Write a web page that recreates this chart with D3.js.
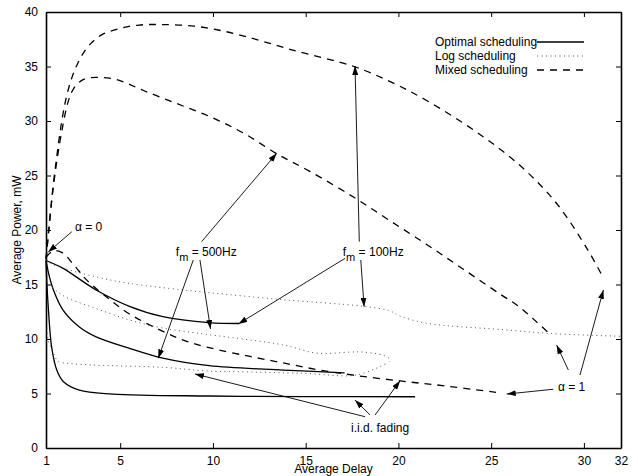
<!DOCTYPE html>
<html>
<head>
<meta charset="utf-8">
<script src="https://cdn.jsdelivr.net/npm/d3@7"></script>
<style>
  body { margin: 0; background: #fff; }
  text { font-family: "Liberation Sans", Arial, Helvetica, sans-serif; fill: #000; }
</style>
</head>
<body>
<div id="chart"></div>
<script>
// axis ticks
var xTicks = [1, 5, 10, 15, 20, 25, 30, 32];
var yTicks = [0, 5, 10, 15, 20, 25, 30, 35, 40];

// Optimal scheduling (solid)
var optimalA = [[1, 17.2], [1.9, 16.5], [3.7, 14.5], [5.5, 13.0], [7.3, 12.05], [9.8, 11.5], [11.4, 11.42]];
var optimalB = [[1, 17.2], [1.2, 15.6], [1.4, 14.5], [1.9, 12.7], [2.8, 11.1], [3.7, 10.2], [5.5, 9.15], [7.3, 8.25], [9.8, 7.55], [13.8, 7.15], [17.1, 6.9]];
var optimalC = [[1, 17.2], [1.05, 15.0], [1.12, 13.0], [1.3, 9.3], [1.58, 7.15], [1.93, 6.1], [2.8, 5.3], [4.6, 4.95], [9.8, 4.77], [15, 4.72], [20.9, 4.7]];

// Log scheduling (dotted)
var logA = [[1, 17.2], [1.4, 16.8], [3.7, 15.7], [5.5, 15.1], [8.4, 14.5], [9.8, 14.25], [13.8, 13.6], [18.1, 13.0], [19.5, 12.6], [20.1, 12.1], [21.5, 11.45], [25.7, 10.85], [28.2, 10.5], [32, 10.25]];
var logB = [[1, 15.3], [1.9, 14.0], [3.7, 12.8], [5.5, 11.75], [7.3, 11.0], [9.8, 10.4], [13.8, 9.45], [15.6, 8.7], [17.4, 8.8], [18.1, 8.8], [19.2, 8.5], [19.5, 8.2], [19.5, 7.9]];
var logC = [[1.05, 11.0], [1.12, 9.9], [1.4, 8.7], [1.66, 7.95], [2.3, 7.75], [3.7, 7.6], [7.3, 7.4], [9.8, 7.05], [11.3, 7.0], [14.9, 6.85], [17.75, 6.7], [19.4, 7.8]];

// Mixed scheduling (dashed)
var mixedA = [[1, 17.3], [1.15, 20], [1.35, 23.5], [1.6, 27], [1.85, 30], [2.1, 32.2], [2.4, 34], [2.8, 35.6], [3.3, 36.9], [4.0, 37.9], [5.0, 38.5], [6.0, 38.8], [7.2, 38.85], [9, 38.7], [10.7, 38.2], [12.5, 37.4], [14.3, 36.5], [17.6, 35.0], [19.7, 33.5], [21.5, 31.9], [24.2, 29.0], [26.5, 26.0], [28.5, 22.5], [30.2, 18.2], [31.05, 15.6]];
var mixedB = [[1, 17.3], [1.15, 20], [1.35, 23.3], [1.6, 26.5], [1.9, 29.5], [2.2, 31.8], [2.5, 33.0], [3.0, 33.8], [3.7, 34.0], [4.8, 33.8], [6.25, 32.8], [8.05, 31.6], [9.84, 30.4], [11.64, 28.9], [13.44, 27.0], [15.2, 25.4], [17.6, 23.0], [19.5, 20.9], [21.5, 18.7], [23.5, 16.4], [25.5, 14.1], [26.4, 13.1], [27.3, 11.8], [28.2, 10.4]];
var mixedC = [[1, 17.5], [1.4, 18.1], [1.9, 17.9], [2.5, 16.8], [3.2, 15.4], [4.3, 13.8], [5.5, 12.3], [7.3, 10.7], [8.4, 9.9], [9.8, 9.2], [12.0, 8.4], [13.8, 7.8], [15.6, 7.2], [17.5, 6.7], [20.1, 6.15], [22.5, 5.7], [25.3, 5.1]];

// annotation arrows [fromX, fromY, toX, toY] in data units
var arrows = [
  [2.39, 19.84, 1.12, 17.98],
  [9.39, 18.93, 13.44, 27.04],
  [8.94, 17.25, 7.05, 8.23],
  [9.30, 17.25, 9.87, 10.92],
  [17.89, 18.93, 17.66, 35.05],
  [17.97, 17.25, 18.15, 12.96],
  [17.12, 17.40, 11.37, 11.38],
  [29.16, 7.16, 28.53, 9.45],
  [29.79, 6.70, 31.05, 14.50],
  [28.35, 5.39, 25.84, 4.95],
  [18.74, 3.03, 20.09, 6.17],
  [18.47, 3.03, 17.66, 4.40],
  [18.20, 2.87, 9.03, 6.79]
];

var legendLabels = ["Optimal scheduling", "Log scheduling", "Mixed scheduling"];

var svgWidth = 638, svgHeight = 476;
var margin = {top: 12, right: 17, bottom: 28, left: 46},
    width = svgWidth - margin.left - margin.right,
    height = svgHeight - margin.top - margin.bottom;

var svg = d3.select("#chart").append("svg")
    .attr("width", svgWidth)
    .attr("height", svgHeight);

svg.append("defs").append("marker")
    .attr("id", "head")
    .attr("markerUnits", "userSpaceOnUse")
    .attr("markerWidth", 9).attr("markerHeight", 6)
    .attr("refX", 9).attr("refY", 3)
    .attr("orient", "auto")
  .append("path")
    .attr("d", "M0,0 L9,3 L0,6 Z")
    .attr("fill", "#000");

var g = svg.append("g")
    .attr("transform", "translate(" + margin.left + "," + margin.top + ")");

var x = d3.scaleLinear().domain([1, 32]).range([0, width]);
var y = d3.scaleLinear().domain([0, 40]).range([height, 0]);

// axes, ticks inward
g.append("g").attr("class", "axis")
    .attr("transform", "translate(0," + height + ")")
    .call(d3.axisBottom(x).tickValues(xTicks).tickSizeInner(-5).tickSizeOuter(0).tickPadding(8));
g.append("g").attr("class", "axis")
    .call(d3.axisLeft(y).tickValues(yTicks).tickSizeInner(-5).tickSizeOuter(0).tickPadding(8));
g.append("g").attr("class", "axis")
    .call(d3.axisTop(x).tickValues(xTicks).tickSizeInner(-5).tickSizeOuter(0).tickFormat(""));
g.append("g").attr("class", "axis")
    .attr("transform", "translate(" + width + ",0)")
    .call(d3.axisRight(y).tickValues(yTicks).tickSizeInner(-5).tickSizeOuter(0).tickFormat(""));

g.selectAll(".axis text").style("font-size", "12px").attr("fill", "#000");
g.selectAll(".axis line").attr("stroke", "#000");
g.selectAll(".axis path").attr("stroke", "#000").attr("stroke-width", 1.6);

svg.append("text")
    .attr("x", margin.left + width / 2)
    .attr("y", 473)
    .attr("text-anchor", "middle")
    .style("font-size", "12px")
    .text("Average Delay");

svg.append("text")
    .attr("transform", "translate(21," + (margin.top + height / 2) + ") rotate(-90)")
    .attr("text-anchor", "middle")
    .style("font-size", "12px")
    .text("Average Power, mW");

var line = d3.line()
    .x(function(d) { return x(d[0]); })
    .y(function(d) { return y(d[1]); })
    .curve(d3.curveCatmullRom.alpha(0.5));

function drawSeries(data, style) {
  g.append("path")
    .datum(data)
    .attr("fill", "none")
    .attr("stroke", style.color)
    .attr("stroke-width", style.width)
    .attr("stroke-dasharray", style.dash)
    .attr("d", line);
}

var solid = {color: "#000", width: 1.3, dash: null};
var dotted = {color: "#555", width: 1, dash: "1,3.5"};
var dashed = {color: "#000", width: 1.3, dash: "7,6"};

[optimalA, optimalB, optimalC].forEach(function(s) { drawSeries(s, solid); });
[logA, logB, logC].forEach(function(s) { drawSeries(s, dotted); });
[mixedA, mixedB, mixedC].forEach(function(s) { drawSeries(s, dashed); });

// arrows
g.selectAll(".arrow")
  .data(arrows)
  .enter().append("line")
    .attr("x1", function(d) { return x(d[0]); })
    .attr("y1", function(d) { return y(d[1]); })
    .attr("x2", function(d) { return x(d[2]); })
    .attr("y2", function(d) { return y(d[3]); })
    .attr("stroke", "#000")
    .attr("stroke-width", 0.9)
    .attr("marker-end", "url(#head)");

// annotation labels
function label(xv, yv, txt) {
  return g.append("text")
    .attr("x", x(xv)).attr("y", y(yv))
    .style("font-size", "12px")
    .text(txt);
}
label(2.56, 19.9, "\u03b1 = 0");
label(28.6, 5.2, "\u03b1 = 1");
label(17.45, 1.5, "i.i.d. fading");

function fmLabel(xv, yv, hz) {
  var t = g.append("text")
    .attr("x", x(xv)).attr("y", y(yv))
    .style("font-size", "12px");
  t.append("tspan").text("f");
  t.append("tspan").attr("dy", 5).style("font-size", "11px").text("m");
  t.append("tspan").attr("dy", -5).text(" = " + hz);
}
fmLabel(8.0, 17.6, "500Hz");
fmLabel(17.0, 17.6, "100Hz");

// legend
var legend = svg.append("g").attr("transform", "translate(435,0)");
var styles = [solid, dotted, dashed];
legendLabels.forEach(function(name, i) {
  var yy = 42 + i * 14;
  legend.append("text")
    .attr("x", 0).attr("y", yy + 4)
    .style("font-size", "12px")
    .text(name);
  legend.append("line")
    .attr("x1", 102).attr("x2", 149)
    .attr("y1", yy).attr("y2", yy)
    .attr("stroke", styles[i].color)
    .attr("stroke-width", styles[i].width)
    .attr("stroke-dasharray", styles[i].dash);
});
</script>
</body>
</html>
